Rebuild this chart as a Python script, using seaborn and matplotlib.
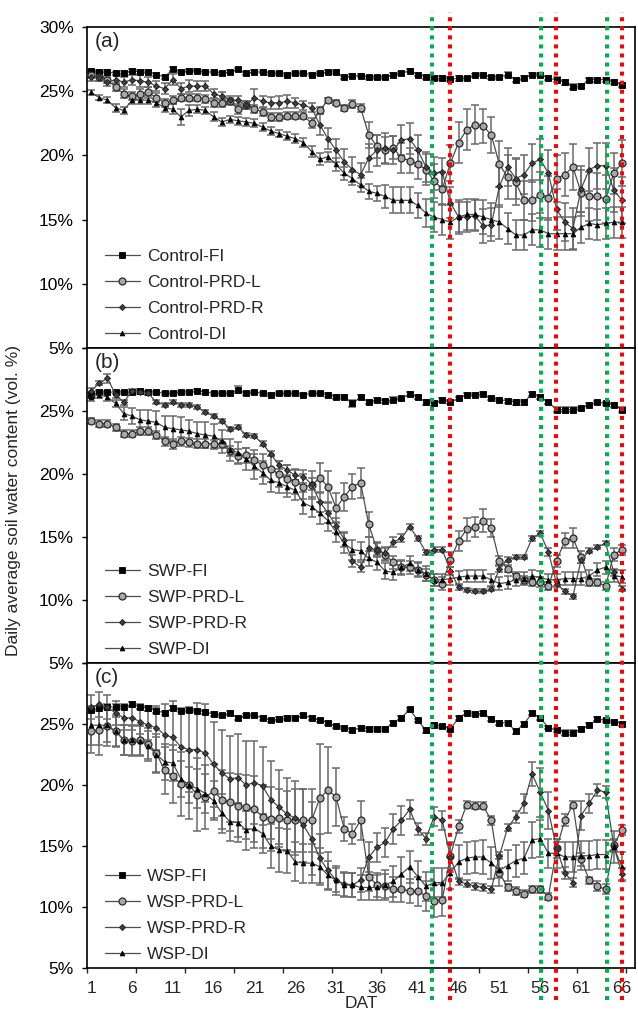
import matplotlib
matplotlib.use("Agg")
import matplotlib.pyplot as plt
import seaborn as sns
from matplotlib.transforms import blended_transform_factory
from matplotlib.lines import Line2D

sns.set_theme(style="ticks")
plt.rcParams["font.family"] = ["Liberation Sans", "DejaVu Sans"]

# ---------------- data ----------------
DAT = list(range(1, 67))
TREATMENTS = ["Control", "SWP", "WSP"]
SERIES = ["FI", "PRD-L", "PRD-R", "DI"]
PANEL_LABELS = ["(a)", "(b)", "(c)"]
Y_TICKS = [5, 10, 15, 20, 25, 30]
X_LABEL_TICKS = [1, 6, 11, 16, 21, 26, 31, 36, 41, 46, 51, 56, 61, 66]
X_MARK_TICKS = [0.5, 6.5, 12.5, 18.5, 24.5, 30.5, 36.5, 42.5, 48.5, 54.5, 60.5, 66.5]
GREEN_DAYS = [42.7, 56.1, 64.2]
RED_DAYS = [44.9, 57.9, 66.0]

A_FI = [26.6, 26.5, 26.5, 26.4, 26.4, 26.6, 26.5, 26.5, 26.3, 26.1,
        26.7, 26.5, 26.6, 26.6, 26.5, 26.5, 26.4, 26.5, 26.7, 26.4,
        26.5, 26.5, 26.4, 26.4, 26.3, 26.4, 26.4, 26.3, 26.4, 26.5,
        26.5, 26.1, 26.2, 26.2, 26.1, 26.1, 26.1, 26.3, 26.4, 26.6,
        26.3, 26.1, 26.0, 26.0, 25.95, 26.0, 26.0, 26.25, 26.3, 26.1,
        26.1, 26.3, 25.9, 26.0, 26.3, 26.3, 26.0, 25.9, 25.7, 25.35,
        25.4, 25.9, 25.9, 25.9, 25.7, 25.5]
A_PRDL = [26.3, 26.1, 25.9, 25.3, 24.8, 24.6, 24.8, 24.9, 24.5, 24.1,
          24.3, 24.5, 24.5, 24.5, 24.4, 24.1, 24.1, 24.2, 23.6, 23.9,
          23.6, 23.4, 23.0, 23.0, 23.1, 23.1, 23.1, 22.5, 23.5, 24.3,
          24.1, 23.7, 24.0, 23.7, 21.6, 20.7, 20.4, 20.6, 19.8, 19.6,
          19.3, 18.9, 18.0, 17.4, 19.4, 21.0, 22.0, 22.4, 22.3, 21.6,
          19.3, 18.3, 17.9, 16.5, 16.5, 16.9, 16.7, 18.2, 18.5, 19.1,
          17.1, 16.8, 16.8, 16.6, 18.6, 19.4]
A_PRDR = [26.1, 26.1, 25.7, 25.9, 25.7, 25.9, 25.8, 25.7, 25.4, 25.2,
          25.9, 25.2, 25.4, 25.4, 25.4, 24.8, 24.6, 24.3, 24.3, 23.9,
          24.5, 24.2, 24.1, 24.1, 24.2, 24.1, 23.9, 23.7, 22.4, 21.3,
          20.4, 19.5, 18.9, 18.5, 19.8, 20.4, 20.55, 20.4, 21.2, 21.3,
          20.4, 19.1, 18.6, 18.7, 16.3, 15.2, 15.2, 15.3, 14.5, 14.6,
          17.6, 19.1, 18.2, 18.5, 19.4, 19.7, 18.6, 15.8, 14.8, 14.3,
          17.4, 18.9, 19.2, 19.2, 17.3, 16.5]
A_DI = [24.9, 24.5, 24.3, 23.7, 23.5, 24.3, 24.3, 24.3, 24.1, 23.7,
        23.6, 23.0, 23.5, 23.6, 23.5, 23.0, 22.6, 22.8, 22.7, 22.6,
        22.5, 22.2, 21.9, 21.7, 21.5, 21.3, 21.0, 20.3, 19.7, 19.9,
        19.3, 18.6, 18.2, 17.7, 17.2, 17.05, 16.8, 16.5, 16.5, 16.5,
        16.1, 15.5, 15.2, 15.0, 14.8, 15.2, 15.4, 15.4, 15.2, 15.0,
        14.8, 14.3, 13.8, 13.8, 14.2, 14.2, 13.9, 13.9, 13.9, 13.9,
        14.4, 14.7, 14.6, 14.7, 14.8, 14.8]

A_FI_ERR = [0.15, 0.12, 0.12, 0.12, 0.15, 0.12, 0.15, 0.12, 0.12, 0.15,
            0.15, 0.12, 0.12, 0.12, 0.12, 0.12, 0.12, 0.12, 0.12, 0.10,
            0.12, 0.12, 0.12, 0.12, 0.12, 0.12, 0.12, 0.12, 0.12, 0.12,
            0.15, 0.12, 0.12, 0.12, 0.12, 0.12, 0.12, 0.12, 0.12, 0.10,
            0.12, 0.15, 0.15, 0.15, 0.15, 0.20, 0.12, 0.12, 0.12, 0.12,
            0.12, 0.20, 0.15, 0.15, 0.12, 0.15, 0.15, 0.20, 0.20, 0.20,
            0.15, 0.15, 0.15, 0.15, 0.15, 0.15]
A_PRDL_ERR = [0.25, 0.3, 0.3, 0.3, 0.35, 0.3, 0.4, 0.4, 0.35, 0.3,
              0.3, 0.3, 0.3, 0.3, 0.3, 0.3, 0.3, 0.3, 0.35, 0.3,
              0.3, 0.3, 0.3, 0.3, 0.25, 0.25, 0.25, 0.4, 0.25, 0.2,
              0.2, 0.25, 0.3, 0.3, 1.0, 0.9, 1.0, 0.9, 1.2, 1.0,
              1.1, 1.2, 1.3, 1.3, 1.4, 1.6, 1.6, 1.5, 1.3, 1.4,
              1.8, 1.7, 1.8, 1.5, 1.6, 1.8, 1.7, 1.8, 1.7, 1.8,
              1.8, 1.9, 1.8, 1.9, 1.6, 1.8]
A_PRDR_ERR = [0.3, 0.3, 0.3, 0.35, 0.4, 0.4, 0.45, 0.4, 0.4, 0.4,
              0.45, 0.4, 0.45, 0.4, 0.4, 0.35, 0.3, 0.3, 0.3, 0.3,
              0.7, 0.4, 0.45, 0.5, 0.5, 0.4, 0.35, 0.35, 0.8, 0.8,
              0.9, 1.0, 1.0, 0.9, 1.1, 1.2, 1.2, 1.1, 1.2, 1.2,
              1.2, 1.2, 1.3, 1.1, 1.2, 1.3, 1.2, 1.2, 1.3, 1.3,
              1.6, 1.5, 1.6, 1.5, 1.5, 1.6, 1.8, 1.6, 1.5, 1.6,
              1.8, 1.7, 1.8, 1.8, 1.7, 1.8]
A_DI_ERR = [0.2, 0.2, 0.25, 0.3, 0.3, 0.3, 0.3, 0.3, 0.3, 0.35,
            0.4, 0.6, 0.4, 0.3, 0.3, 0.35, 0.3, 0.3, 0.3, 0.3,
            0.3, 0.3, 0.3, 0.3, 0.3, 0.35, 0.35, 0.4, 0.45, 0.4,
            0.5, 0.5, 0.5, 0.55, 0.6, 0.6, 0.9, 1.0, 1.0, 1.0,
            1.0, 1.1, 1.2, 1.2, 1.3, 1.2, 1.2, 1.2, 1.3, 1.3,
            1.3, 1.2, 1.2, 1.2, 1.2, 1.3, 1.2, 1.3, 1.3, 1.3,
            1.2, 1.2, 1.2, 1.2, 1.2, 1.2]

B_FI = [26.3, 26.5, 26.5, 26.5, 26.5, 26.5, 26.6, 26.5, 26.5, 26.4,
        26.4, 26.5, 26.5, 26.6, 26.5, 26.4, 26.4, 26.4, 26.7, 26.4,
        26.5, 26.4, 26.3, 26.4, 26.4, 26.4, 26.3, 26.4, 26.4, 26.3,
        26.1, 26.1, 25.6, 26.1, 25.7, 25.9, 25.8, 25.9, 26.0, 26.35,
        26.1, 25.7, 25.6, 25.9, 25.7, 26.0, 26.3, 26.3, 26.35, 26.0,
        25.9, 25.8, 25.7, 25.7, 26.35, 26.1, 25.7, 25.1, 25.1, 25.1,
        25.2, 25.5, 25.7, 25.6, 25.5, 25.1]
B_PRDL = [24.2, 24.0, 24.0, 23.7, 23.2, 23.2, 23.4, 23.4, 23.1, 22.6,
          22.4, 22.6, 22.5, 22.4, 22.4, 22.4, 22.4, 21.8, 21.4, 21.5,
          21.1, 20.7, 20.4, 20.0, 19.6, 19.4, 19.0, 19.1, 19.7, 19.0,
          17.3, 18.2, 19.0, 19.3, 16.0, 14.0, 13.6, 13.0, 12.6, 12.6,
          12.4, 12.0, 11.6, 11.3, 13.2, 14.7, 15.6, 15.8, 16.3, 15.7,
          13.1, 12.5, 11.9, 11.6, 11.4, 11.4, 11.1, 13.1, 14.7, 14.9,
          13.4, 11.4, 11.4, 11.1, 13.6, 14.0]
B_PRDR = [26.6, 27.2, 27.6, 26.3, 25.7, 26.6, 26.5, 26.4, 25.7, 25.5,
          25.7, 25.5, 25.5, 25.3, 24.9, 24.6, 24.2, 23.6, 23.7, 23.1,
          23.0, 22.4, 21.6, 20.7, 20.3, 19.9, 19.8, 19.2, 17.8, 16.9,
          15.9, 14.8, 13.1, 12.6, 14.1, 14.0, 13.7, 14.6, 14.9, 15.8,
          14.9, 13.8, 14.0, 14.0, 12.3, 11.0, 10.8, 10.7, 10.7, 10.85,
          12.5, 13.2, 13.4, 13.4, 14.9, 15.3, 13.8, 11.3, 10.7, 10.3,
          13.2, 13.9, 14.2, 14.5, 12.2, 10.9]
B_DI = [26.1, 26.3, 26.1, 25.6, 24.8, 24.6, 24.3, 24.2, 24.1, 23.7,
        23.6, 23.5, 23.4, 23.2, 23.1, 23.0, 22.6, 21.9, 21.7, 21.2,
        20.6, 20.1, 19.5, 19.3, 19.0, 18.7, 17.7, 17.4, 16.9, 16.3,
        15.4, 14.5, 14.0, 13.9, 13.3, 13.0, 12.3, 12.2, 12.6, 12.9,
        12.4, 12.1, 11.6, 11.6, 11.7, 11.8, 11.9, 11.9, 11.9, 11.6,
        11.3, 11.4, 11.6, 11.7, 11.9, 11.8, 11.6, 11.6, 11.7, 11.7,
        11.7, 11.9, 12.4, 12.6, 11.9, 11.85]

B_FI_ERR = [0.2, 0.15, 0.12, 0.12, 0.12, 0.12, 0.12, 0.12, 0.12, 0.12,
            0.12, 0.12, 0.12, 0.12, 0.12, 0.12, 0.12, 0.12, 0.3, 0.12,
            0.12, 0.12, 0.12, 0.12, 0.12, 0.12, 0.12, 0.12, 0.12, 0.15,
            0.15, 0.15, 0.25, 0.15, 0.15, 0.15, 0.15, 0.2, 0.15, 0.12,
            0.15, 0.2, 0.2, 0.15, 0.15, 0.12, 0.12, 0.12, 0.12, 0.12,
            0.12, 0.15, 0.2, 0.2, 0.12, 0.15, 0.15, 0.2, 0.2, 0.2,
            0.15, 0.12, 0.12, 0.12, 0.15, 0.2]
B_PRDL_ERR = [0.25, 0.3, 0.3, 0.3, 0.3, 0.3, 0.3, 0.3, 0.3, 0.35,
              0.4, 0.35, 0.35, 0.35, 0.35, 0.3, 0.35, 0.4, 0.6, 0.6,
              0.8, 0.9, 1.0, 1.0, 1.1, 1.0, 1.0, 1.1, 1.2, 1.2,
              1.2, 1.1, 1.0, 1.2, 1.0, 0.6, 0.5, 0.5, 0.5, 0.5,
              0.5, 0.5, 0.5, 0.5, 0.6, 0.8, 0.9, 0.8, 0.9, 0.7,
              0.4, 0.3, 0.3, 0.3, 0.3, 0.4, 0.3, 0.5, 0.6, 0.8,
              0.5, 0.3, 0.3, 0.3, 0.5, 0.4]
B_PRDR_ERR = [0.2, 0.15, 0.35, 0.3, 0.2, 0.15, 0.15, 0.15, 0.15, 0.15,
              0.15, 0.15, 0.15, 0.15, 0.15, 0.15, 0.15, 0.15, 0.15, 0.15,
              0.15, 0.2, 0.2, 0.3, 0.4, 0.4, 0.5, 0.5, 0.8, 0.8,
              0.6, 0.6, 0.5, 0.4, 0.9, 0.5, 0.5, 0.4, 0.3, 0.2,
              0.2, 0.2, 0.2, 0.2, 0.3, 0.2, 0.15, 0.15, 0.15, 0.15,
              0.3, 0.2, 0.15, 0.15, 0.2, 0.2, 0.3, 0.3, 0.2, 0.2,
              0.3, 0.2, 0.15, 0.15, 0.3, 0.2]
B_DI_ERR = [0.3, 0.3, 0.3, 0.3, 0.5, 0.6, 0.8, 0.9, 0.9, 0.9,
            1.0, 1.0, 0.9, 0.9, 1.0, 1.0, 0.9, 0.9, 0.8, 0.9,
            1.0, 0.9, 0.9, 0.8, 0.8, 0.8, 0.9, 0.8, 0.9, 0.8,
            0.8, 0.8, 0.8, 0.7, 0.6, 0.6, 0.6, 0.6, 0.6, 0.6,
            0.6, 0.6, 0.5, 0.5, 0.5, 0.5, 0.5, 0.5, 0.5, 0.5,
            0.5, 0.5, 0.5, 0.5, 0.5, 0.5, 0.5, 0.5, 0.5, 0.5,
            0.5, 0.5, 0.5, 0.5, 0.5, 0.5]

C_FI = [26.15, 26.3, 26.4, 26.4, 26.4, 26.6, 26.4, 26.3, 26.1, 25.9,
        26.3, 26.1, 26.15, 26.1, 26.0, 25.8, 25.7, 25.9, 25.5, 25.7,
        25.7, 25.5, 25.3, 25.4, 25.5, 25.5, 25.7, 25.5, 25.3, 25.1,
        24.8, 24.7, 24.5, 24.7, 24.6, 24.6, 24.6, 25.1, 25.5, 26.2,
        25.3, 24.5, 24.9, 24.8, 24.6, 25.5, 25.9, 25.8, 25.9, 25.4,
        25.1, 25.1, 24.4, 25.0, 25.9, 25.5, 24.7, 24.5, 24.3, 24.3,
        24.6, 24.9, 25.4, 25.3, 25.2, 25.0]
C_PRDL = [24.4, 24.5, 24.8, 24.4, 23.7, 23.6, 23.7, 23.4, 22.6, 21.2,
          20.7, 20.1, 20.0, 19.2, 19.0, 19.5, 18.8, 18.6, 18.3, 18.2,
          18.0, 17.4, 17.2, 17.3, 17.1, 17.1, 17.1, 17.1, 18.9, 19.6,
          19.0, 16.4, 16.0, 17.1, 12.5, 11.8, 11.7, 11.45, 11.45, 11.3,
          11.3, 10.9, 10.5, 10.6, 14.2, 16.6, 18.4, 18.3, 18.3, 17.1,
          12.8, 11.6, 11.3, 11.1, 11.45, 11.45, 10.85, 14.8, 17.1, 18.4,
          13.9, 12.2, 11.7, 11.45, 15.1, 16.3]
C_PRDR = [26.4, 26.6, 26.4, 25.9, 25.5, 25.5, 25.2, 24.9, 24.7, 24.1,
          23.9, 23.1, 22.9, 22.9, 22.6, 21.7, 21.0, 20.5, 20.6, 20.0,
          20.2, 19.9, 18.8, 18.2, 17.6, 17.3, 16.7, 15.6, 14.0, 13.0,
          12.2, 11.9, 11.8, 12.2, 14.1, 14.9, 15.3, 16.4, 17.1, 18.0,
          16.4, 15.6, 17.4, 17.1, 14.1, 12.1, 11.9, 11.7, 11.6, 11.45,
          14.2, 16.5, 17.4, 18.5, 20.9, 19.4, 17.9, 14.8, 12.8, 12.0,
          17.5, 18.5, 19.6, 19.4, 15.0, 12.7]
C_DI = [24.9, 24.9, 24.9, 24.4, 23.7, 23.7, 23.6, 23.2, 22.5, 21.9,
        21.8, 20.5, 20.0, 19.7, 19.3, 18.7, 17.7, 17.0, 16.9, 16.3,
        16.45, 16.0, 15.0, 14.7, 14.6, 13.7, 13.6, 13.6, 13.3, 12.6,
        12.2, 11.8, 11.8, 11.6, 11.6, 11.6, 11.8, 12.1, 12.7, 13.3,
        12.5, 11.7, 12.0, 12.0, 12.8, 13.7, 14.0, 14.1, 14.1, 13.6,
        13.0, 13.4, 13.8, 14.0, 15.5, 15.6, 14.4, 14.4, 14.1, 14.1,
        14.2, 14.2, 14.3, 14.3, 14.9, 13.3]

C_FI_ERR = [0.2, 0.2, 0.2, 0.2, 0.2, 0.2, 0.2, 0.2, 0.2, 0.2,
            0.15, 0.15, 0.15, 0.15, 0.15, 0.15, 0.15, 0.15, 0.15, 0.15,
            0.15, 0.15, 0.15, 0.15, 0.15, 0.15, 0.15, 0.15, 0.15, 0.15,
            0.15, 0.15, 0.15, 0.15, 0.15, 0.15, 0.15, 0.15, 0.15, 0.15,
            0.15, 0.2, 0.15, 0.15, 0.15, 0.15, 0.15, 0.15, 0.15, 0.15,
            0.15, 0.15, 0.2, 0.15, 0.15, 0.15, 0.15, 0.15, 0.2, 0.2,
            0.15, 0.15, 0.15, 0.15, 0.15, 0.15]
C_PRDL_ERR = [1.8, 2.0, 1.6, 1.3, 1.2, 1.2, 1.2, 1.3, 1.6, 1.9,
              2.2, 2.6, 2.8, 3.0, 2.6, 2.2, 2.4, 2.4, 2.6, 2.6,
              2.7, 2.6, 2.6, 2.4, 2.4, 2.6, 2.6, 2.6, 4.5, 3.5,
              2.4, 1.0, 0.8, 1.6, 1.2, 1.0, 1.0, 1.0, 1.0, 1.0,
              1.2, 1.2, 1.3, 1.3, 1.0, 0.5, 0.3, 0.3, 0.3, 0.4,
              0.4, 0.3, 0.3, 0.3, 0.3, 0.3, 0.3, 0.5, 0.5, 0.3,
              0.5, 0.3, 0.4, 0.4, 0.5, 0.4]
C_PRDR_ERR = [1.0, 1.0, 1.0, 1.0, 1.0, 1.0, 1.0, 1.2, 1.8, 2.5,
              3.0, 3.2, 3.5, 3.8, 4.0, 3.5, 3.5, 3.5, 3.6, 3.6,
              3.4, 3.2, 3.2, 3.0, 3.0, 3.0, 3.0, 3.0, 2.0, 1.5,
              1.2, 1.0, 1.0, 1.0, 1.2, 1.2, 1.2, 1.2, 1.2, 0.8,
              0.5, 0.5, 0.8, 0.8, 1.2, 0.3, 0.3, 0.3, 0.3, 0.3,
              0.3, 0.3, 0.5, 0.8, 1.0, 2.0, 1.5, 0.8, 0.5, 0.4,
              1.2, 0.8, 0.5, 0.5, 0.5, 0.5]
C_DI_ERR = [1.6, 1.6, 1.4, 1.2, 1.2, 1.2, 1.2, 1.2, 1.4, 1.5,
            1.5, 1.5, 1.5, 1.6, 1.6, 1.6, 1.6, 1.6, 1.6, 1.6,
            1.6, 1.6, 1.8, 1.8, 1.8, 1.6, 1.6, 1.6, 1.5, 1.2,
            1.0, 1.0, 1.0, 1.0, 1.0, 1.0, 1.2, 1.3, 1.4, 1.3,
            1.3, 1.2, 1.2, 1.2, 1.3, 1.4, 1.3, 1.3, 1.4, 1.3,
            1.3, 1.3, 1.3, 1.3, 1.5, 1.5, 1.2, 1.2, 1.2, 1.2,
            1.2, 1.2, 1.2, 1.2, 1.3, 1.2]

PANEL_DATA = [
    [(A_FI, A_FI_ERR), (A_PRDL, A_PRDL_ERR), (A_PRDR, A_PRDR_ERR), (A_DI, A_DI_ERR)],
    [(B_FI, B_FI_ERR), (B_PRDL, B_PRDL_ERR), (B_PRDR, B_PRDR_ERR), (B_DI, B_DI_ERR)],
    [(C_FI, C_FI_ERR), (C_PRDL, C_PRDL_ERR), (C_PRDR, C_PRDR_ERR), (C_DI, C_DI_ERR)],
]

# ---------------- styling ----------------
MARKER_STYLE = {
    "FI": dict(marker="s", markersize=3.9, markerfacecolor="black",
               markeredgecolor="black", markeredgewidth=0.6),
    "PRD-L": dict(marker="o", markersize=5.0, markerfacecolor="#a8a8a8",
                  markeredgecolor="#2a2a2a", markeredgewidth=0.9),
    "PRD-R": dict(marker="D", markersize=3.1, markerfacecolor="#404040",
                  markeredgecolor="#1a1a1a", markeredgewidth=0.6),
    "DI": dict(marker="^", markersize=3.5, markerfacecolor="black",
               markeredgecolor="black", markeredgewidth=0.5),
}
FS = 12.5

W, H = 638.0, 1013.0
fig = plt.figure(figsize=(6.38, 10.13), dpi=100)


def add_px_axes(left, top, right, bottom):
    return fig.add_axes([left / W, 1 - bottom / H, (right - left) / W, (bottom - top) / H])


axes = [add_px_axes(87, 27, 635, 348),
        add_px_axes(87, 348, 635, 663),
        add_px_axes(87, 663, 635, 968)]

for i, ax in enumerate(axes):
    for name, (vals, errs) in zip(SERIES, PANEL_DATA[i]):
        ax.errorbar(DAT, vals, yerr=errs, fmt="none", ecolor="#6a6a6a",
                    elinewidth=1.1, capsize=2.6, capthick=1.1, zorder=2)
        sns.lineplot(x=DAT, y=vals, ax=ax, color="#4d4d4d", linewidth=0.9,
                     label=f"{TREATMENTS[i]}-{name}", zorder=3,
                     **MARKER_STYLE[name])
    ax.set_xlim(0.5, 67.6)
    ax.set_ylim(5, 30)
    ax.set_yticks(Y_TICKS)
    ax.set_yticklabels([("" if (i > 0 and t == 30) else f"{t}%") for t in Y_TICKS])
    ax.tick_params(axis="y", direction="out", length=3.6, width=1.0,
                   labelsize=FS, pad=6, colors="black")
    ax.set_xlabel("")
    ax.set_ylabel("")
    for sp in ax.spines.values():
        sp.set_visible(True)
        sp.set_color("black")
        sp.set_linewidth(1.2)
    ax.text(0.015, 0.985, PANEL_LABELS[i], transform=ax.transAxes,
            ha="left", va="top", fontsize=15)
    ax.legend(loc="lower left", bbox_to_anchor=(0.033, 0.02), frameon=False,
              fontsize=FS, handlelength=2.0, handletextpad=0.4,
              labelspacing=0.62, borderaxespad=0, borderpad=0)
    ax.set_xticks(X_LABEL_TICKS)
    ax.set_xticks(X_MARK_TICKS, minor=True)
    if i < 2:
        ax.tick_params(axis="x", which="both", bottom=False, labelbottom=False)
    else:
        ax.tick_params(axis="x", which="major", length=0, pad=9, labelsize=FS)
        ax.tick_params(axis="x", which="minor", direction="out", length=3.6,
                       width=1.0, bottom=True)
        ax.set_xlabel("DAT", fontsize=FS, labelpad=0)

fig.text(14 / W, 0.506, "Daily average soil water content (vol. %)",
         rotation=90, ha="center", va="center", fontsize=12.5)

# vertical dotted markers spanning all panels
trans = blended_transform_factory(axes[2].transData, fig.transFigure)
y_top, y_bot = 1 - 12 / H, 1 - 1000 / H
for days, col in ((GREEN_DAYS, "#00b050"), (RED_DAYS, "#ff0000")):
    for d in days:
        fig.add_artist(Line2D([d, d], [y_bot, y_top], transform=trans, color=col,
                              linewidth=2.9, linestyle=(0, (1, 1.25)),
                              dash_capstyle="butt", zorder=10))

fig.savefig("out.png", dpi=100)
